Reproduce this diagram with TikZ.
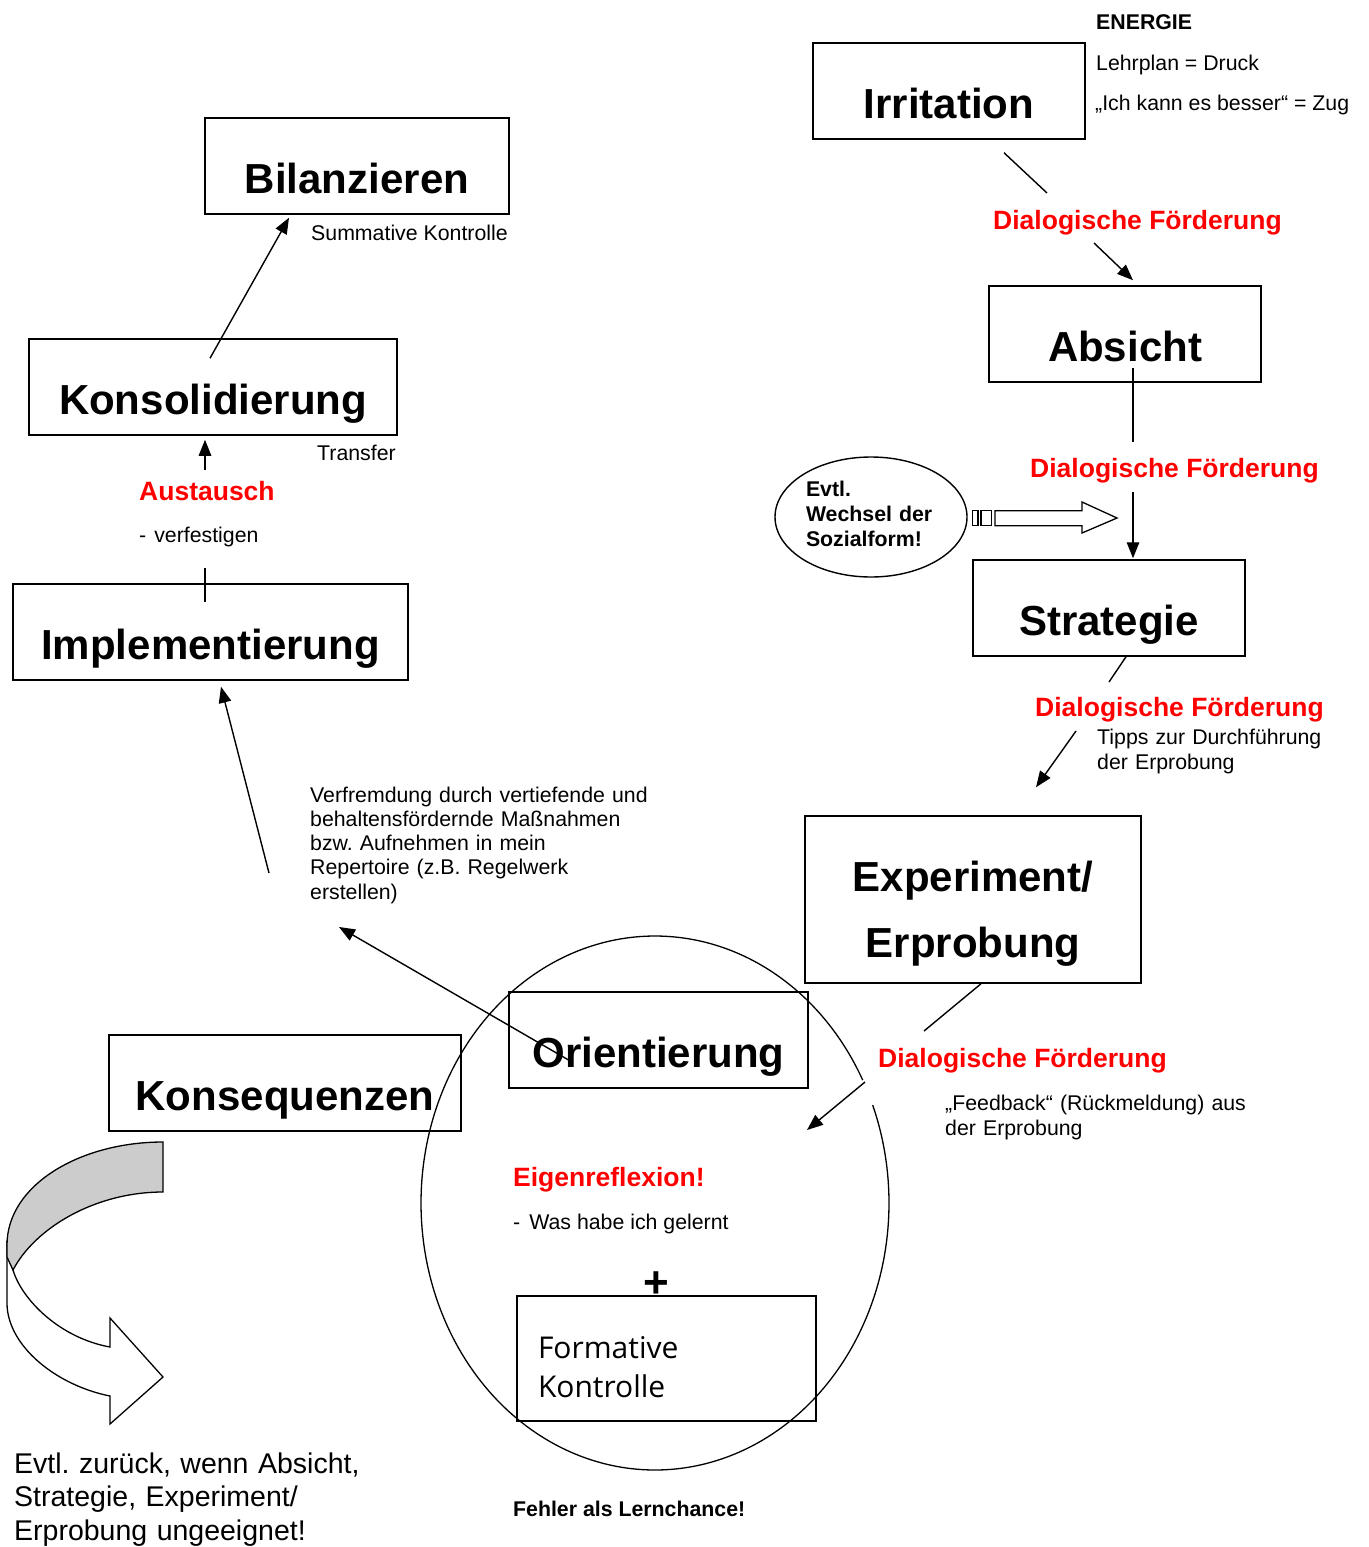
\documentclass[tikz,border=0pt]{standalone}
\usepackage{fontspec}
\setmainfont{Liberation Sans}
\newfontfamily\formfont{Open Sans}
\usetikzlibrary{arrows.meta,shapes.geometric,calc}
\newcommand{\bigbf}{\fontsize{42}{50}\selectfont\bfseries}
\newcommand{\redbf}{\fontsize{26.5}{30}\selectfont\bfseries}
\newcommand{\smalltx}{\fontsize{21.3}{24.3}\selectfont}
\newcommand{\smallbf}{\fontsize{21.3}{25}\selectfont\bfseries}
\frenchspacing
\begin{document}
\begin{tikzpicture}[x=1pt,y=-1pt,
  box/.style={draw, line width=1.5pt, inner sep=0pt, font=\bigbf, text height=54pt, text depth=0pt},
  arr/.style={line width=1.4pt, -{Triangle[length=16pt,width=12.5pt]}},
  ln/.style={line width=1.4pt},
  redlbl/.style={text=red, font=\redbf, inner sep=0pt, anchor=base west},
  note/.style={font=\smalltx, inner sep=0pt, anchor=base west},
  notebf/.style={font=\smallbf, inner sep=0pt, anchor=base west},
  shapeline/.style={line width=1.3pt}
]
\useasboundingbox (0,0) rectangle (1368,1547);

% ---------- boxes ----------
\node[box, minimum width=272pt, minimum height=96pt] (irr) at (949,91) {Irritation};
\node[box, minimum width=304pt, minimum height=96pt] (bil) at (357,166) {Bilanzieren};
\node[box, minimum width=368pt, minimum height=96pt] (kons) at (213,387) {Konsolidierung};
\node[box, minimum width=395pt, minimum height=96pt] (impl) at (210.5,632) {Implementierung};
\node[box, minimum width=272pt, minimum height=96pt] (abs) at (1125,334) {Absicht};
\node[box, minimum width=272pt, minimum height=96pt] (strat) at (1109,608) {Strategie};
\node[box, minimum width=299pt, minimum height=96pt] (ori) at (658.5,1040) {Orientierung};
\node[box, minimum width=352pt, minimum height=96pt] (konseq) at (285,1083) {Konsequenzen};
\node[box, minimum width=336pt, minimum height=167pt, text width=336pt, align=center,
      text height=0pt, text depth=17pt, font=\fontsize{42}{66}\selectfont\bfseries]
      (exp) at (973,899.5) {Experiment/\\Erprobung};
\node[draw, line width=1.5pt, minimum width=299pt, minimum height=125pt, inner xsep=21pt, inner ysep=0pt,
      text width=257pt, align=left, text height=0pt, text depth=1pt,
      font=\formfont\fontsize{30}{39}\selectfont] (form) at (666.5,1358.5) {Formative\\Kontrolle};

% ---------- ellipse "Evtl. Wechsel der Sozialform!" ----------
\node[ellipse, draw, line width=1.4pt, minimum width=192pt, minimum height=120pt, inner sep=0pt,
      text width=130pt, align=left, text height=0pt, text depth=42pt,
      font=\smallbf] (soz) at (871,517) {Evtl.\\Wechsel der\\Sozialform!};

% ---------- texts ----------
\node[notebf] (energie) at (1096,29) {ENERGIE};
\node[note] (druck) at (1096,70) {Lehrplan = Druck};
\node[note] (zug) at (1095,110) {„Ich kann es besser“ = Zug};
\node[note] (summ) at (311,240) {Summative Kontrolle};
\node[note] (transfer) at (317,460) {Transfer};
\node[redlbl] (aust) at (139,500) {Austausch};
\node[note] (verfest) at (139,542) {-\hspace{8pt}verfestigen};
\node[redlbl] (df1) at (993,229) {Dialogische Förderung};
\node[redlbl] (df2) at (1030,477) {Dialogische Förderung};
\node[redlbl] (df3) at (1035,716) {Dialogische Förderung};
\node[redlbl] (df4) at (878,1067) {Dialogische Förderung};
\node[note, text width=260pt, align=left, font=\fontsize{21.3}{25}\selectfont] (tipps) at (1097,744)
  {Tipps zur Durchführung\\der Erprobung};
\node[note, text width=330pt, align=left, font=\fontsize{21.3}{25}\selectfont] (feedback) at (945,1110)
  {„Feedback“ (Rückmeldung) aus\\der Erprobung};
\node[note, text width=380pt, align=left] (verf) at (310,802)
  {Verfremdung durch vertiefende und\\behaltensfördernde Maßnahmen\\bzw. Aufnehmen in mein\\Repertoire (z.B. Regelwerk\\erstellen)};
\node[redlbl] (eigen) at (513,1186) {Eigenreflexion!};
\node[note] (was) at (513,1229) {-\hspace{9pt}Was habe ich gelernt};
\node[notebf] (fehler) at (513,1516) {Fehler als Lernchance!};
\node[inner sep=0pt, anchor=base west, text width=420pt, align=left, font=\fontsize{28.5}{33.5}\selectfont]
  (zurueck) at (14,1473) {Evtl. zurück, wenn Absicht,\\Strategie, Experiment/\\Erprobung ungeeignet!};
\node[inner sep=0pt, font=\fontsize{44}{44}\selectfont\bfseries] (plus) at (656,1285) {+};

% ---------- big circle (with gap) ----------
\draw[shapeline] plot[domain=-21.5:332.6, samples=240, smooth] ({655+234*cos(\x)},{1203+267*sin(\x)});

% ---------- connectors ----------
% Irritation -> Absicht
\coordinate (c1a) at ($(irr.south)+(55,13)$);
\coordinate (c1b) at (1047,193);
\coordinate (c1c) at (1094,243);
\draw[ln] (c1a) -- (c1b);
\draw[arr] (c1c) -- ($(abs.north)+(8,-5)$);
% Absicht -> Strategie
\coordinate (c2a) at (1133,442);
\coordinate (c2b) at (1133,492);
\draw[ln] ($(abs.center)+(8,34)$) -- (c2a);
\draw[arr] (c2b) -- ($(strat.north)+(24,-1)$);
% Strategie -> Experiment
\coordinate (c3a) at (1109,682);
\coordinate (c3b) at (1076,731);
\draw[ln] ($(strat.south)+(17,0)$) -- (c3a);
\draw[arr] (c3b) -- ($(exp.north)+(63,-28)$);
% Experiment -> circle
\coordinate (c4a) at (924,1031);
\coordinate (c4b) at (865,1082);
\coordinate (c4c) at (807,1130);
\draw[ln] ($(exp.south)+(8,0)$) -- (c4a);
\draw[arr] (c4b) -- (c4c);
% Orientierung -> Verfremdung
\coordinate (c5) at (339,927);
\draw[arr] ($(ori.center)+(-86.5,22)$) -- (c5);
% Verfremdung -> Implementierung
\coordinate (c6) at (269,873);
\draw[arr] (c6) -- ($(impl.south)+(10.5,6)$);
% Implementierung -> Konsolidierung
\coordinate (c7a) at (205,568);
\coordinate (c7b) at (205,470);
\draw[ln] (c7a) -- ($(impl.north)+(-5.5,19)$);
\draw[arr] (c7b) -- ($(kons.south)+(-8,4)$);
% Konsolidierung -> Bilanzieren
\draw[arr] ($(kons.north)+(-3,20)$) -- ($(bil.south)+(-68,3)$);

% ---------- block arrow from ellipse ----------
\draw[shapeline, fill=white] (995,510.7) -- (1082,510.7) -- (1082,502) -- (1117,518) -- (1082,533) -- (1082,525.7) -- (995,525.7) -- cycle;
\draw[shapeline] (972.5,510.7) rectangle (978,525.7);
\draw[shapeline] (981,510.7) rectangle (991.5,525.7);

% ---------- curved arrow ----------
\draw[shapeline, fill=white] (7,1245) -- (7,1303) .. controls (7,1345) and (55,1385) .. (110,1396)
  -- (110,1424) -- (163,1377) -- (110,1318) -- (110,1347) .. controls (60,1338) and (22,1300) .. (13,1270) -- cycle;
\draw[shapeline, fill=black!20] (163,1142) .. controls (80,1142) and (7,1185) .. (7,1245) -- (7,1257) -- (13,1270)
  .. controls (35,1228) and (95,1192) .. (163,1192) -- cycle;
\end{tikzpicture}
\end{document}
